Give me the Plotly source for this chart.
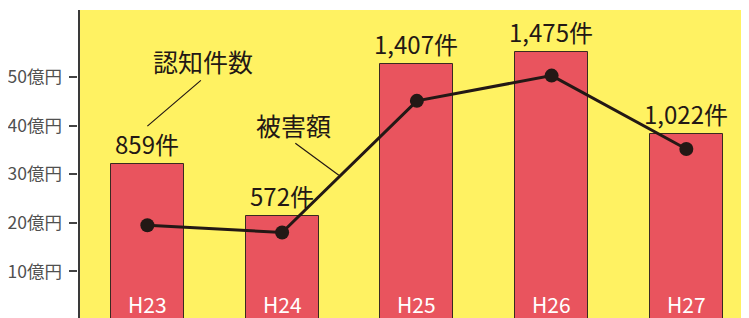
import plotly.graph_objects as go

years = ["H23", "H24", "H25", "H26", "H27"]
counts = [859, 572, 1407, 1475, 1022]          # 認知件数 (件)
damage = [19.5, 18.0, 45.1, 50.3, 35.2]        # 被害額 (億円)
y_tickvals = [10, 20, 30, 40, 50]
y_ticktext = [f"{v}億円" for v in y_tickvals]

# the page body has an 8px default margin; size the figure to fit the window
W, H = 741, 310
LEFT = 72
FONT = "Noto Sans CJK JP"
DARK = "#231815"
RED = "#E9545E"
YELLOW = "#FFF262"

fig = go.Figure()

fig.add_trace(go.Bar(
    x=years, y=counts, yaxis="y",
    width=0.542,
    marker=dict(color=RED, line=dict(color="#3a2a20", width=1)),
    text=[f"{c:,}件" for c in counts],
    textposition="outside",
    constraintext="none",
    cliponaxis=False,
    textfont=dict(family=FONT, size=24, color=DARK),
    showlegend=False,
))

fig.add_trace(go.Scatter(
    x=years, y=damage, yaxis="y2",
    mode="lines+markers",
    line=dict(color=DARK, width=3),
    marker=dict(color=DARK, size=14),
    showlegend=False,
))

annotations = [
    # leader lines
    dict(x=0.0, y=39.9, xref="x", yref="y2", text=" ", font=dict(size=1),
         showarrow=True, arrowhead=0, arrowwidth=1.2, arrowcolor=DARK,
         ax=55, ay=-47, axref="pixel", ayref="pixel"),
    dict(x=1.421, y=29.8, xref="x", yref="y2", text=" ", font=dict(size=1),
         showarrow=True, arrowhead=0, arrowwidth=1.2, arrowcolor=DARK,
         ax=-45, ay=-33, axref="pixel", ayref="pixel"),
    # labels
    dict(x=0.416, y=53.3, xref="x", yref="y2", text="認知件数", showarrow=False,
         font=dict(family=FONT, size=25, color=DARK)),
    dict(x=1.083, y=40.1, xref="x", yref="y2", text="被害額", showarrow=False,
         font=dict(family=FONT, size=25, color=DARK)),
]
# year labels inside the bars, near the bottom
for i, yr in enumerate(years):
    annotations.append(dict(x=i, y=3.2, xref="x", yref="y2", text=yr,
                            showarrow=False, yanchor="middle",
                            font=dict(family=FONT, size=21, color="white")))

fig.update_layout(
    width=W, height=H,
    margin=dict(l=0, r=0, t=2, b=0, autoexpand=False),
    paper_bgcolor="white",
    plot_bgcolor=YELLOW,
    bargap=0,
    xaxis=dict(
        domain=[LEFT / W, 1],
        range=[-0.5, 4.465],
        type="category",
        showline=False, showgrid=False, zeroline=False,
        ticks="", showticklabels=False,
        automargin=False,
    ),
    yaxis=dict(
        range=[11, 1705],
        showline=True, linecolor="#3a3a3a", linewidth=2,
        showgrid=False, zeroline=False, showticklabels=False, ticks="",
        automargin=False,
    ),
    yaxis2=dict(
        overlaying="y",
        anchor="free",
        position=(LEFT - 3.5) / W,
        side="left",
        range=[0.41, 63.8],
        tickvals=y_tickvals,
        ticktext=y_ticktext,
        ticks="outside", ticklen=8, tickwidth=2, tickcolor="#444444",
        ticklabelstandoff=3,
        showline=False, showgrid=False, zeroline=False,
        tickfont=dict(family=FONT, size=17.5, color="#505050"),
        automargin=False,
    ),
    annotations=annotations,
)

fig.write_html("out.html")
